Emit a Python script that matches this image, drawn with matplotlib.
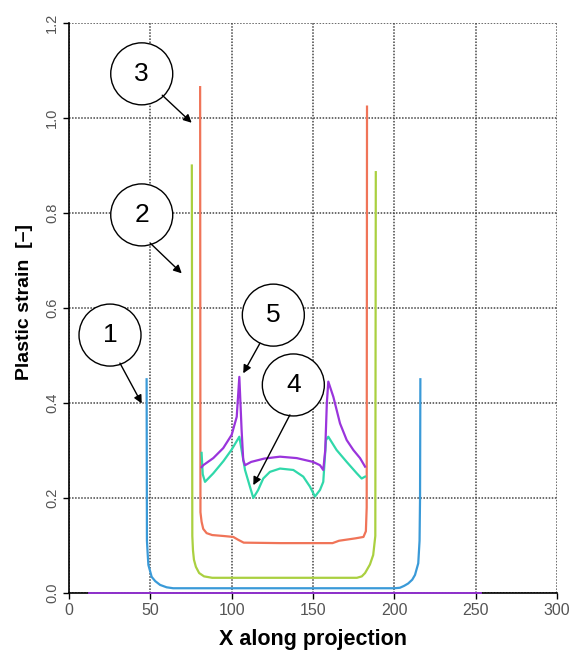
import numpy as np
import matplotlib
matplotlib.use("Agg")
import matplotlib.pyplot as plt
from matplotlib.patches import Ellipse

plt.rcParams['font.family'] = ['Liberation Sans', 'DejaVu Sans']

# curve 1 (blue)
x1 = [47.7, 47.9, 48.4, 48.8, 50.8, 53, 56, 60, 64, 100, 150, 200, 203.4, 206,
      208.5, 211, 212.7, 214.7, 215.5, 215.8, 216.0]
y1 = [0.45, 0.11, 0.08, 0.059, 0.034, 0.025, 0.017, 0.012, 0.01, 0.01, 0.01, 0.01, 0.011, 0.015,
      0.02, 0.028, 0.038, 0.0625, 0.11, 0.2, 0.45]

# curve 2 (green)
x2 = [75.5, 75.8, 76.2, 76.8, 78, 80, 83, 88, 120, 160, 177, 180, 182, 185, 187,
      188.3, 188.6]
y2 = [0.90, 0.12, 0.09, 0.07, 0.055, 0.042, 0.035, 0.032, 0.032, 0.032, 0.032, 0.035, 0.042,
      0.06, 0.08, 0.12, 0.886]

# curve 3 (red)
x3 = [80.6, 80.8, 81.5, 82.5, 84.6, 88, 95, 101, 104, 107.4, 130, 162, 166, 170,
      176, 181, 182.5, 183.0, 183.2]
y3 = [1.065, 0.17, 0.15, 0.135, 0.126, 0.122, 0.12, 0.118, 0.112, 0.106, 0.105, 0.105, 0.11,
      0.112, 0.115, 0.118, 0.13, 0.18, 1.024]

# curve 4 (turquoise)
x4 = [81.5, 82.2, 83.6, 88.7, 95, 100, 104.7, 106.1, 108.2, 111.2, 113.3, 116.3,
      119.4, 123.5, 129.7, 137.9, 144, 148.1, 151.2, 154.3, 156.3, 158, 159.4, 164.5, 170.7,
      176.9, 179.9, 182]
y4 = [0.295, 0.25, 0.234, 0.252, 0.278, 0.302, 0.329, 0.301, 0.259, 0.224, 0.2, 0.217,
      0.241, 0.255, 0.262, 0.259, 0.245, 0.224, 0.203, 0.217, 0.234, 0.322, 0.329, 0.301, 0.276,
      0.252, 0.241, 0.245]

# curve 5 (purple)
x5 = [81.5, 82.5, 88.7, 94.8, 100, 103.1, 104.7, 106.1, 107.1, 108.2, 112, 120,
      129.7, 140, 150, 154.3, 156.3, 157.5, 158.5, 159.4, 162.5, 166.6, 170.7, 174.8, 178.9,
      182]
y5 = [0.265, 0.269, 0.284, 0.305, 0.333, 0.371, 0.455, 0.343, 0.28, 0.269, 0.276, 0.283,
      0.287, 0.284, 0.276, 0.269, 0.259, 0.3, 0.4, 0.445, 0.413, 0.357, 0.322, 0.301, 0.284,
      0.266]

# zero baseline along the bottom
x0 = [12, 253]
y0 = [0, 0]

x_ticks = [0, 50, 100, 150, 200, 250, 300]
y_ticks = [0.0, 0.2, 0.4, 0.6, 0.8, 1.0, 1.2]

# label bubbles: number, centre, arrow start, arrow end
labels = ["1", "2", "3", "4", "5"]
centers = [(25.2, 0.543), (44.7, 0.796), (44.7, 1.093), (137.9, 0.438), (125.6, 0.585)]
arrow_from = [(31.3, 0.484), (49.8, 0.737), (57.3, 1.048), (135.8, 0.375), (117.4, 0.526)]
arrow_to = [(44.7, 0.399), (69.3, 0.673), (75.4, 0.99), (113.3, 0.227), (107.1, 0.4625)]

fig = plt.figure(figsize=(5.81, 6.52), dpi=100)
ax = fig.add_axes([0.1188, 0.0905, 0.8399, 0.8742])

lw = 1.6
ax.plot(x1, y1, color='#3a9ad8', lw=lw, zorder=3)
ax.plot(x2, y2, color='#aad040', lw=lw, zorder=3)
ax.plot(x3, y3, color='#f07458', lw=lw, zorder=3)
ax.plot(x4, y4, color='#30d8aa', lw=lw, zorder=3)
ax.plot(x5, y5, color='#9a34dc', lw=lw, zorder=3)
ax.plot(x0, y0, color='#9a34dc', lw=1.3, zorder=4, clip_on=False)

ax.set_xlim(0, 300)
ax.set_ylim(0, 1.2)
ax.set_xticks(x_ticks)
ax.set_yticks(y_ticks)
ax.set_yticklabels([f"{v:.1f}" for v in y_ticks], rotation=90, va='center')
ax.tick_params(axis='both', direction='out', length=4, width=1, color='black',
               labelcolor='#555555')
ax.tick_params(axis='x', labelsize=11.5, pad=3)
ax.tick_params(axis='y', labelsize=10.5, pad=3)
ax.grid(True, color='#444444', linestyle=(0, (1, 1)), linewidth=1.1, zorder=1)
ax.spines['top'].set_visible(False)
ax.spines['right'].set_visible(False)
ax.spines['left'].set_linewidth(1.2)
ax.spines['bottom'].set_linewidth(1.2)

ax.set_xlabel("X along projection", fontsize=15.5, fontweight='bold', va='top')
ax.set_ylabel("Plastic strain  [\u2013]", fontsize=14, fontweight='bold',
              ha='center', va='center')
ax.xaxis.set_label_coords(0.5, -0.064, transform=ax.transAxes)
ax.yaxis.set_label_coords(-0.092, 0.51, transform=ax.transAxes)

# bubbles with arrows
rx = 31 / (0.8399 * 581) * 300
ry = 31 / (0.8742 * 652) * 1.2
for lab, c, a0, a1 in zip(labels, centers, arrow_from, arrow_to):
    ax.add_patch(Ellipse(c, 2 * rx, 2 * ry, facecolor='white', edgecolor='black',
                         lw=1, zorder=5, clip_on=False))
    ax.text(c[0], c[1], lab, fontsize=19, ha='center', va='center', zorder=6)
    ax.annotate("", xy=a1, xytext=a0,
                arrowprops=dict(arrowstyle='-|>', color='black', lw=1, mutation_scale=12,
                                shrinkA=0, shrinkB=0), zorder=6)

plt.savefig("out.png", dpi=100)
